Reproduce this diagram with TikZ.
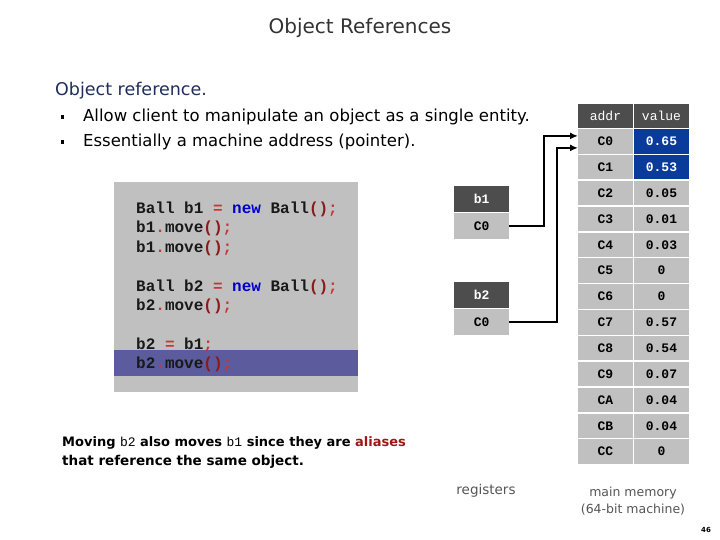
\documentclass[tikz,border=0pt]{standalone}
\usepackage{fontspec}
\setmainfont{DejaVu Sans}
\setmonofont{Liberation Mono}
\usetikzlibrary{positioning,arrows.meta}

\definecolor{codegray}{HTML}{C0C0C0}
\definecolor{headgray}{HTML}{4D4D4D}
\definecolor{memblue}{HTML}{0A3A9A}
\definecolor{hilite}{HTML}{5B5B9E}
\definecolor{navytext}{HTML}{1F2D5C}
\definecolor{opred}{HTML}{CC3333}
\definecolor{parenred}{HTML}{8B1A1A}
\definecolor{kwblue}{HTML}{0000CC}
\definecolor{aliasred}{HTML}{A01515}
\definecolor{notegray}{HTML}{555555}

\newcommand\codeop[1]{\textcolor{opred}{#1}}
\newcommand\codepar[1]{\textcolor{parenred}{#1}}
\newcommand\codekw[1]{\textcolor{kwblue}{#1}}

\tikzset{
  cell/.style={fill=codegray,minimum width=54.5pt,minimum height=24.4pt,inner sep=0pt,
    anchor=north west,font=\ttfamily\bfseries\fontsize{13}{13}\selectfont},
  headcell/.style={cell,fill=headgray,text=white,font=\ttfamily\fontsize{13}{13}\selectfont},
  bluecell/.style={cell,fill=memblue,text=white},
  regcell/.style={cell,minimum width=55pt,minimum height=26pt},
  reghead/.style={regcell,fill=headgray,text=white},
  codeline/.style={anchor=base west,inner sep=0pt,text=black!90,
    font=\ttfamily\bfseries\fontsize{16}{19}\selectfont},
  ptr/.style={line width=2pt,-{Latex[length=8pt,width=7pt]}},
}

\begin{document}
\begin{tikzpicture}[x=1pt,y=-1pt]
  \useasboundingbox (0,0) rectangle (720,540);

  \node[font=\fontsize{20}{22}\selectfont,text=black!80] (title) at (360,28) {Object References};
  \node[anchor=base west,inner sep=0pt,text=navytext,font=\fontsize{17.5}{20}\selectfont]
    (objref) at (55,96) {Object reference.};
  \node[fill=black,inner sep=0pt,minimum width=3pt,minimum height=3.5pt] (bul1) at (62,117) {};
  \node[fill=black,inner sep=0pt,minimum width=3pt,minimum height=3.5pt] (bul2) at (62,142) {};
  \node[anchor=base west,inner sep=0pt,font=\fontsize{16.5}{19}\selectfont]
    (item1) at (83,121.5) {Allow client to manipulate an object as a single entity.};
  \node[anchor=base west,inner sep=0pt,font=\fontsize{16.5}{19}\selectfont]
    (item2) at (83,147) {Essentially a machine address (pointer).};

  \fill[codegray] (114,182) rectangle (358,392);
  \fill[hilite] (114,350) rectangle (358,376);
  \node[codeline] (code1) at (136,214) {Ball b1 \codeop{=} \codekw{new} Ball\codepar{()}\codeop{;}};
  \node[codeline] (code2) at (136,233) {b1\codeop{.}move\codepar{()}\codeop{;}};
  \node[codeline] (code3) at (136,252) {b1\codeop{.}move\codepar{()}\codeop{;}};
  \node[codeline] (code4) at (136,291) {Ball b2 \codeop{=} \codekw{new} Ball\codepar{()}\codeop{;}};
  \node[codeline] (code5) at (136,310) {b2\codeop{.}move\codepar{()}\codeop{;}};
  \node[codeline] (code6) at (136,349) {b2 \codeop{=} b1\codeop{;}};
  \node[codeline] (code7) at (136,368) {b2\codeop{.}move\codepar{()}\codeop{;}};

  \node[reghead] (b1head) at (454,186) {b1};
  \node[regcell] (b1val) at (454,213) {C0};
  \node[reghead] (b2head) at (454,282) {b2};
  \node[regcell] (b2val) at (454,309) {C0};

  \node[headcell] (addrhead) at (578,103.5) {addr};
  \node[headcell] (valuehead) at (634,103.5) {value};
  \foreach \a/\v/\s [count=\i from 0] in {C0/0.65/bluecell,C1/0.53/bluecell,C2/0.05/cell,
      C3/0.01/cell,C4/0.03/cell,C5/0/cell,C6/0/cell,C7/0.57/cell,C8/0.54/cell,
      C9/0.07/cell,CA/0.04/cell,CB/0.04/cell,CC/0/cell}{
    \node[cell] (m\i) at (578,129+\i*25.85) {\a};
    \node[\s] (v\i) at (634,129+\i*25.85) {\v};
  }

  \draw[ptr] (b1val.east) -- ++(35,0) |- ([yshift=5.5pt]m0.west);
  \draw[ptr] (b2val.east) -- ++(47.5,0) |- ([yshift=-6.5pt]m0.west);

  \node[anchor=base west,inner sep=0pt,font=\bfseries\fontsize{13}{15}\selectfont]
    (note1) at (62,446) {Moving {\ttfamily\mdseries b2} also moves {\ttfamily\mdseries b1} since they are \textcolor{aliasred}{aliases}};
  \node[anchor=base west,inner sep=0pt,font=\bfseries\fontsize{13.5}{15}\selectfont]
    (note2) at (62,465) {that reference the same object.};
  \node[anchor=base,inner sep=0pt,text=notegray,font=\fontsize{13.5}{15}\selectfont]
    (reglabel) at (486,494) {registers};
  \node[anchor=base,inner sep=0pt,text=notegray,font=\fontsize{12.5}{14}\selectfont]
    (memlabel1) at (633,496) {main memory};
  \node[anchor=base,inner sep=0pt,text=notegray,font=\fontsize{12.5}{14}\selectfont]
    (memlabel2) at (633,513) {(64-bit machine)};
  \node[font=\bfseries\fontsize{7}{8}\selectfont] (pagenum) at (706,530) {46};
\end{tikzpicture}
\end{document}
